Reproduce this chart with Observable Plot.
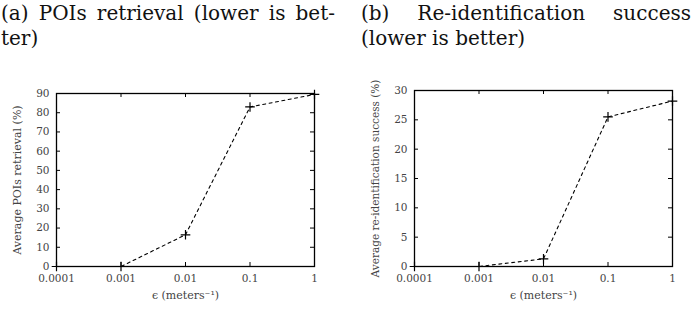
<!DOCTYPE html>
<html>
<head>
<meta charset="utf-8">
<script src="https://cdn.jsdelivr.net/npm/d3@7"></script>
<script src="https://cdn.jsdelivr.net/npm/@observablehq/plot@0.6"></script>
<style>
  html, body { margin: 0; padding: 0; background: white; }
  #page { position: relative; width: 697px; height: 311px; overflow: hidden; background: white; font-family: "DejaVu Serif", "Liberation Serif", "Times New Roman", serif; }
  .title { position: absolute; top: 1px; font-size: 20px; line-height: 25px; color: #111; }
  .title .l1 { text-align: justify; text-align-last: justify; white-space: nowrap; }
  .chart { position: absolute; }
  .chart svg { overflow: hidden; }
</style>
</head>
<body>
<div id="page">
  <div class="title" id="titleA" style="left:1px; width:334px;"></div>
  <div class="title" id="titleB" style="left:361px; width:330px;"></div>
  <div class="chart" id="chartA" style="left:0px; top:80px;"></div>
  <div class="chart" id="chartB" style="left:348px; top:68px;"></div>
</div>
<script>
// ---- data ----
const epsilon = [0.0001, 0.001, 0.01, 0.1, 1];
const xTickLabels = ["0.0001", "0.001", "0.01", "0.1", "1"];
const poisRetrieval = [0, 0, 16.5, 83, 89.5];
const reidSuccess = [0, 0, 1.3, 25.5, 28.2];
const yTicksA = [0, 10, 20, 30, 40, 50, 60, 70, 80, 90];
const yTicksB = [0, 5, 10, 15, 20, 25, 30];
const titleALines = ["(a) POIs retrieval (lower is bet-", "ter)"];
const titleBLines = ["(b) Re-identification success", "(lower is better)"];
const xLabel = "ϵ (meters⁻¹)";
const yLabelA = "Average POIs retrieval (%)";
const yLabelB = "Average re-identification success (%)";

const FONT = "'DejaVu Serif', 'Liberation Serif', 'Times New Roman', serif";

function setTitle(id, lines) {
  const el = document.getElementById(id);
  el.innerHTML = "";
  lines.forEach((t, i) => {
    const d = document.createElement("div");
    if (i < lines.length - 1) d.className = "l1";
    d.textContent = t;
    el.appendChild(d);
  });
}
setTitle("titleA", titleALines);
setTitle("titleB", titleBLines);

function makeChart({values, yMax, yTicks, yLabel, width, height, mLeft, mRight, mTop, mBottom, yLabelSize}) {
  const data = epsilon.map((e, i) => ({x: e, y: values[i]}));
  const pw = width - mLeft - mRight;
  const ph = height - mTop - mBottom;
  const tk = 4;
  return Plot.plot({
    width, height,
    marginLeft: mLeft, marginRight: mRight, marginTop: mTop, marginBottom: mBottom,
    style: {fontFamily: FONT, fontSize: "10.5px", color: "#444", background: "white", overflow: "hidden"},
    x: {type: "log", domain: [epsilon[0], epsilon[epsilon.length - 1]]},
    y: {domain: [0, yMax]},
    marks: [
      Plot.ruleX(epsilon, {x: d => d, stroke: "black", strokeWidth: 1, insetTop: ph - tk}),
      Plot.ruleX(epsilon, {x: d => d, stroke: "black", strokeWidth: 1, insetBottom: ph - tk}),
      Plot.ruleY(yTicks, {y: d => d, stroke: "black", strokeWidth: 1, insetRight: pw - tk}),
      Plot.ruleY(yTicks, {y: d => d, stroke: "black", strokeWidth: 1, insetLeft: pw - tk}),
      Plot.axisX({ticks: epsilon, tickFormat: (d) => xTickLabels[epsilon.indexOf(d)], tickSize: 0, tickPadding: 8, label: null}),
      Plot.axisY({ticks: yTicks, tickSize: 0, tickPadding: 7, label: null}),
      Plot.line(data, {x: "x", y: "y", stroke: "black", strokeWidth: 1.1, strokeDasharray: "3,3.5"}),
      Plot.frame({stroke: "black", strokeWidth: 1.3}),
      Plot.dot(data, {x: "x", y: "y", symbol: "plus", r: 3.2, stroke: "black", strokeWidth: 1.2}),
      Plot.text([xLabel], {frameAnchor: "bottom", dy: 32, fontSize: 11, fill: "#444"}),
      Plot.text([yLabel], {frameAnchor: "left", textAnchor: "middle", rotate: -90, dx: -39, fontSize: yLabelSize, fill: "#444"})
    ]
  });
}

document.getElementById("chartA").appendChild(makeChart({
  values: poisRetrieval, yMax: 90, yTicks: yTicksA, yLabel: yLabelA,
  width: 348, height: 231, mLeft: 56, mRight: 34, mTop: 13, mBottom: 45, yLabelSize: 11
}));
document.getElementById("chartB").appendChild(makeChart({
  values: reidSuccess, yMax: 30, yTicks: yTicksB, yLabel: yLabelB,
  width: 349, height: 243, mLeft: 66, mRight: 25, mTop: 22, mBottom: 45, yLabelSize: 10.5
}));
</script>
</body>
</html>
